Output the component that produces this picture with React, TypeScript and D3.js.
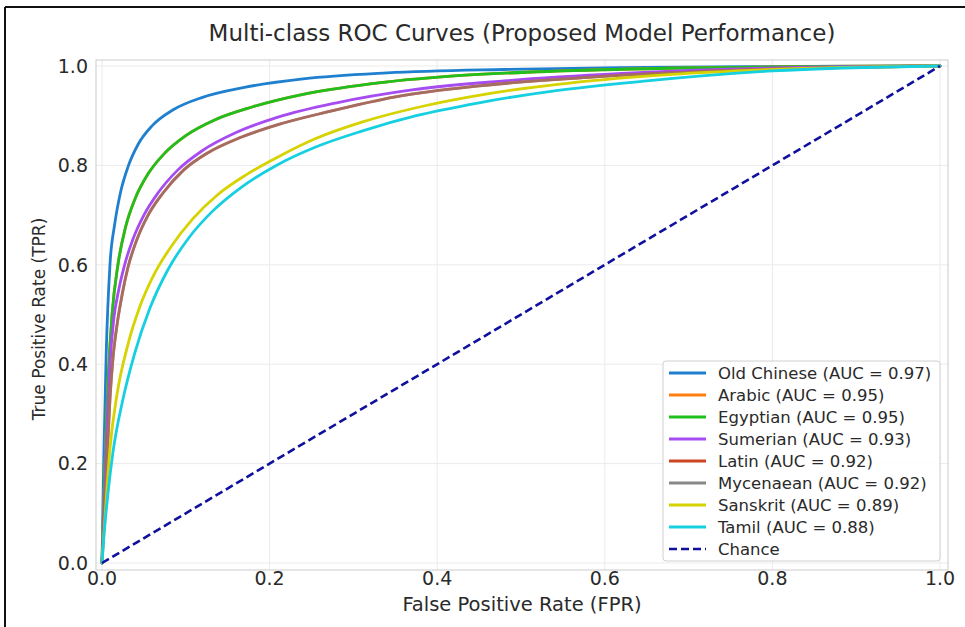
import React from "react";
import * as d3 from "d3";

const W = 965;
const H = 627;

const titleText = "Multi-class ROC Curves (Proposed Model Performance)";
const xLabelText = "False Positive Rate (FPR)";
const yLabelText = "True Positive Rate (TPR)";

const xTicks = [0, 0.2, 0.4, 0.6, 0.8, 1.0];
const yTicks = [0, 0.2, 0.4, 0.6, 0.8, 1.0];

const classNames = ["Old Chinese", "Arabic", "Egyptian", "Sumerian", "Latin", "Mycenaean", "Sanskrit", "Tamil"];
const aucValues = [0.97, 0.95, 0.95, 0.93, 0.92, 0.92, 0.89, 0.88];
const classColors = ["#1f80d0", "#ff7f0e", "#1fbf1f", "#a64cf0", "#cc4422", "#888888", "#d6d300", "#16cfe0"];
const classOpacity = [1, 1, 1, 1, 1, 0.6, 1, 1];

// [FPR, TPR] points
const rocOldChinese: [number, number][] = [
  [0, 0], [0.002, 0.2], [0.005, 0.42], [0.0095, 0.6], [0.015, 0.68], [0.022, 0.745], [0.031, 0.797],
  [0.043, 0.842], [0.06, 0.88], [0.085, 0.912], [0.12, 0.937], [0.17, 0.957], [0.24, 0.974],
  [0.34, 0.986], [0.48, 0.993], [0.65, 0.997], [0.82, 0.999], [1, 1],
];
const rocArabic: [number, number][] = [
  [0, 0], [0.003, 0.17], [0.007, 0.36], [0.012, 0.5], [0.019, 0.6], [0.028, 0.675], [0.04, 0.735],
  [0.055, 0.783], [0.075, 0.825], [0.1, 0.86], [0.135, 0.892], [0.18, 0.918], [0.24, 0.943],
  [0.32, 0.964], [0.42, 0.98], [0.55, 0.99], [0.7, 0.996], [0.85, 0.999], [1, 1],
];
const rocEgyptian: [number, number][] = [
  [0, 0], [0.003, 0.17], [0.007, 0.36], [0.012, 0.5], [0.019, 0.6], [0.028, 0.675], [0.04, 0.735],
  [0.055, 0.783], [0.075, 0.825], [0.1, 0.86], [0.135, 0.892], [0.18, 0.918], [0.24, 0.943],
  [0.32, 0.964], [0.42, 0.98], [0.55, 0.99], [0.7, 0.996], [0.85, 0.999], [1, 1],
];
const rocSumerian: [number, number][] = [
  [0, 0], [0.003, 0.13], [0.006, 0.27], [0.0095, 0.4], [0.014, 0.49], [0.02, 0.55], [0.027, 0.6],
  [0.037, 0.652], [0.05, 0.7], [0.067, 0.745], [0.09, 0.79], [0.12, 0.83], [0.16, 0.866],
  [0.21, 0.897], [0.28, 0.926], [0.37, 0.952], [0.48, 0.97], [0.62, 0.985], [0.8, 0.996], [1, 1],
];
const rocLatin: [number, number][] = [
  [0, 0], [0.003, 0.1], [0.006, 0.21], [0.0095, 0.33], [0.013, 0.41], [0.018, 0.48], [0.024, 0.54],
  [0.031, 0.595], [0.041, 0.648], [0.055, 0.7], [0.073, 0.745], [0.097, 0.79], [0.127, 0.826],
  [0.165, 0.856], [0.21, 0.882], [0.27, 0.908], [0.35, 0.938], [0.45, 0.96], [0.58, 0.977],
  [0.75, 0.991], [1, 1],
];
const rocMycenaean: [number, number][] = [
  [0, 0], [0.003, 0.1], [0.006, 0.21], [0.0095, 0.33], [0.013, 0.41], [0.018, 0.48], [0.024, 0.54],
  [0.031, 0.595], [0.041, 0.648], [0.055, 0.7], [0.073, 0.745], [0.097, 0.79], [0.127, 0.826],
  [0.165, 0.856], [0.21, 0.882], [0.27, 0.908], [0.35, 0.938], [0.45, 0.96], [0.58, 0.977],
  [0.75, 0.991], [1, 1],
];
const rocSanskrit: [number, number][] = [
  [0, 0], [0.004, 0.1], [0.0095, 0.23], [0.018, 0.34], [0.031, 0.44], [0.045, 0.515], [0.062, 0.58],
  [0.083, 0.638], [0.108, 0.692], [0.138, 0.741], [0.172, 0.781], [0.21, 0.817], [0.255, 0.854],
  [0.31, 0.887], [0.38, 0.918], [0.46, 0.944], [0.56, 0.966], [0.68, 0.983], [0.82, 0.994], [1, 1],
];
const rocTamil: [number, number][] = [
  [0, 0], [0.002, 0.048], [0.007, 0.138], [0.013, 0.222], [0.024, 0.322], [0.039, 0.422], [0.057, 0.512],
  [0.078, 0.588], [0.103, 0.653], [0.132, 0.708], [0.167, 0.757], [0.208, 0.8], [0.255, 0.837],
  [0.31, 0.869], [0.375, 0.9], [0.45, 0.926], [0.54, 0.95], [0.65, 0.97], [0.8, 0.99], [1, 1],
];
const chanceLine: [number, number][] = [[0, 0], [1, 1]];

const rocSeries = [rocOldChinese, rocArabic, rocEgyptian, rocSumerian, rocLatin, rocMycenaean, rocSanskrit, rocTamil];

const FONT = "'DejaVu Sans', sans-serif";

export default function App() {
  const frame = { left: 96, right: 948, top: 60, bottom: 570 };
  const x = d3.scaleLinear().domain([0, 1]).range([102, 940]);
  const y = d3.scaleLinear().domain([0, 1]).range([563, 66]);
  const line = d3
    .line<[number, number]>()
    .x((d) => x(d[0]))
    .y((d) => y(d[1]))
    .curve(d3.curveMonotoneX);

  const legend = { x: 663, y: 361, w: 277, h: 200, row0: 373, step: 22 };
  const legendLabels = classNames.map((n, i) => `${n} (AUC = ${aucValues[i].toFixed(2)})`);

  return (
    <svg
      width={W}
      height={H}
      style={{ position: "absolute", left: 0, top: 0, background: "#fff" }}
      fontFamily={FONT}
    >
      <rect x={0} y={0} width={W} height={H} fill="#fff" />
      <line x1={5} y1={7} x2={W} y2={7} stroke="#111" strokeWidth={2} />
      <line x1={5} y1={7} x2={5} y2={H} stroke="#111" strokeWidth={2} />

      <text x={522} y={41} textAnchor="middle" fontSize={23} fill="#2a2a2a">
        {titleText}
      </text>

      {xTicks.map((t) => (
        <line key={"gx" + t} x1={x(t)} x2={x(t)} y1={frame.top} y2={frame.bottom} stroke="#ebebeb" strokeWidth={1} />
      ))}
      {yTicks.map((t) => (
        <line key={"gy" + t} x1={frame.left} x2={frame.right} y1={y(t)} y2={y(t)} stroke="#ebebeb" strokeWidth={1} />
      ))}
      <rect
        x={frame.left}
        y={frame.top}
        width={frame.right - frame.left}
        height={frame.bottom - frame.top}
        fill="none"
        stroke="#d4d4d4"
        strokeWidth={1.2}
      />

      {rocSeries.map((s, i) => (
        <path
          key={classNames[i]}
          d={line(s) || ""}
          fill="none"
          stroke={classColors[i]}
          strokeOpacity={classOpacity[i]}
          strokeWidth={2.8}
          strokeLinejoin="round"
          strokeLinecap="round"
        />
      ))}
      <path d={line(chanceLine) || ""} fill="none" stroke="#10109e" strokeWidth={2.6} strokeDasharray="8 4" />

      {xTicks.map((t) => (
        <text key={"tx" + t} x={x(t)} y={585} textAnchor="middle" fontSize={19} fill="#2a2a2a">
          {t.toFixed(1)}
        </text>
      ))}
      {yTicks.map((t) => (
        <text key={"ty" + t} x={88} y={y(t)} dy="0.36em" textAnchor="end" fontSize={19} fill="#2a2a2a">
          {t.toFixed(1)}
        </text>
      ))}

      <text x={522} y={611} textAnchor="middle" fontSize={19.5} fill="#2a2a2a">
        {xLabelText}
      </text>
      <text transform={`translate(45,${319}) rotate(-90)`} textAnchor="middle" fontSize={17} fill="#2a2a2a">
        {yLabelText}
      </text>

      <rect x={legend.x} y={legend.y} width={legend.w} height={legend.h} rx={3} fill="#fff" fillOpacity={0.9} stroke="#d0d0d0" />
      {legendLabels.map((lab, i) => {
        const cy = legend.row0 + i * legend.step;
        return (
          <g key={lab}>
            <line x1={669} x2={706} y1={cy} y2={cy} stroke={classColors[i]} strokeWidth={2.8} />
            <text x={718} y={cy} dy="0.36em" fontSize={16.5} fill="#2a2a2a">
              {lab}
            </text>
          </g>
        );
      })}
      {(() => {
        const cy = legend.row0 + 8 * legend.step;
        return (
          <g>
            <line x1={669} x2={706} y1={cy} y2={cy} stroke="#10109e" strokeWidth={2.6} strokeDasharray="8 4" />
            <text x={718} y={cy} dy="0.36em" fontSize={16.5} fill="#2a2a2a">
              Chance
            </text>
          </g>
        );
      })()}
    </svg>
  );
}
